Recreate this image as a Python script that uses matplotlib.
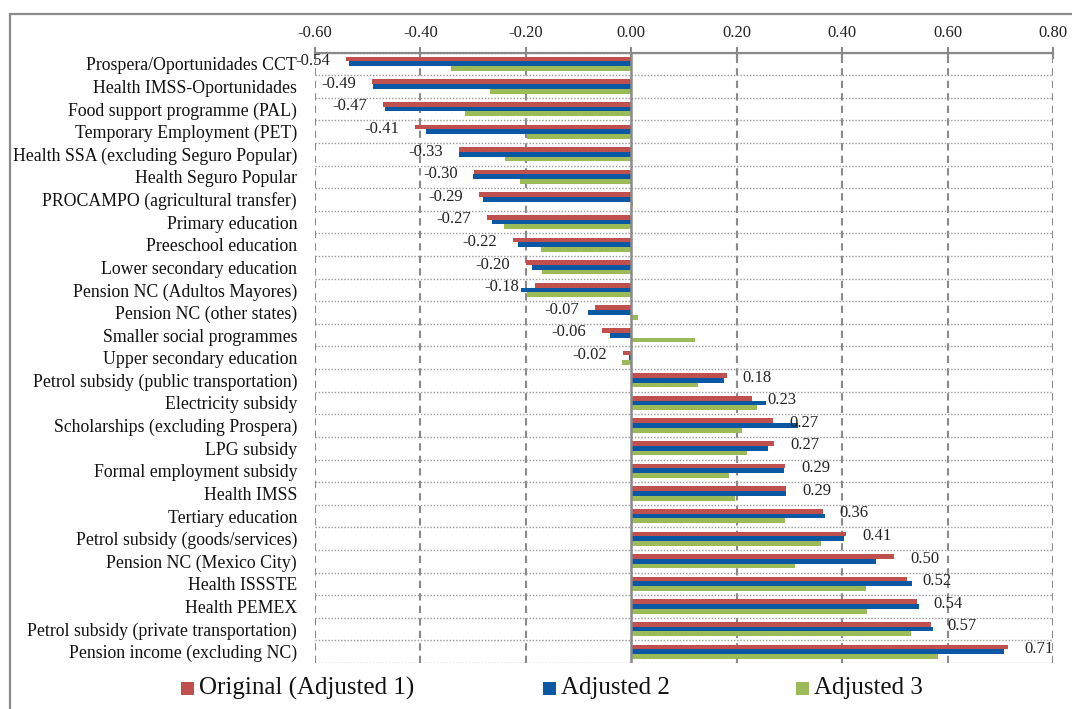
import matplotlib
matplotlib.use('Agg')
import matplotlib.pyplot as plt
from matplotlib.patches import Rectangle

categories = [
    "Prospera/Oportunidades CCT",
    "Health IMSS-Oportunidades",
    "Food support programme (PAL)",
    "Temporary Employment (PET)",
    "Health SSA (excluding Seguro Popular)",
    "Health Seguro Popular",
    "PROCAMPO (agricultural transfer)",
    "Primary education",
    "Preeschool education",
    "Lower secondary education",
    "Pension NC (Adultos Mayores)",
    "Pension NC (other states)",
    "Smaller social programmes",
    "Upper secondary education",
    "Petrol subsidy (public transportation)",
    "Electricity subsidy",
    "Scholarships (excluding Prospera)",
    "LPG subsidy",
    "Formal employment subsidy",
    "Health IMSS",
    "Tertiary education",
    "Petrol subsidy (goods/services)",
    "Pension NC (Mexico City)",
    "Health ISSSTE",
    "Health PEMEX",
    "Petrol subsidy (private transportation)",
    "Pension income (excluding NC)",
]

original = [-0.541, -0.491, -0.471, -0.410, -0.327, -0.298, -0.289, -0.274, -0.224,
            -0.200, -0.183, -0.068, -0.056, -0.016, 0.181, 0.228, 0.269, 0.271,
            0.292, 0.294, 0.364, 0.407, 0.498, 0.522, 0.542, 0.569, 0.714]
adjusted2 = [-0.535, -0.489, -0.466, -0.389, -0.326, -0.300, -0.281, -0.265, -0.214,
             -0.188, -0.210, -0.083, -0.040, -0.004, 0.175, 0.256, 0.316, 0.260,
             0.290, 0.294, 0.368, 0.403, 0.464, 0.532, 0.545, 0.571, 0.706]
adjusted3 = [-0.342, -0.267, -0.315, -0.198, -0.239, -0.211, 0.003, -0.241, -0.171,
             -0.169, -0.198, 0.012, 0.120, -0.017, 0.126, 0.239, 0.210, 0.219,
             0.185, 0.196, 0.291, 0.360, 0.311, 0.444, 0.447, 0.530, 0.581]

series_names = ["Original (Adjusted 1)", "Adjusted 2", "Adjusted 3"]
series_colors = ["#C0504D", "#0A57A3", "#9BBB59"]
xticks = [-0.60, -0.40, -0.20, 0.00, 0.20, 0.40, 0.60, 0.80]

plt.rcParams['font.family'] = ['Liberation Serif', 'DejaVu Serif']

W, H = 1072, 709
fig = plt.figure(figsize=(W / 100, H / 100), dpi=100)

def fx(x):
    return x / W

def fy(y):
    return 1 - y / H

left_px, right_px, top_px, bot_px = 314.8, 1053.3, 52.5, 663.0
ax = fig.add_axes([fx(left_px), fy(bot_px), (right_px - left_px) / W, (bot_px - top_px) / H])

n = len(categories)
ypos = list(range(n))
h = 0.21
grey = "#8A8A8A"

for k, (vals, col) in enumerate(zip([original, adjusted2, adjusted3], series_colors)):
    ax.barh([y + (k - 1) * h for y in ypos], vals, height=h, color=col, zorder=3, linewidth=0)

ax.set_xlim(-0.6, 0.8)
ax.set_ylim(n - 0.5, -0.5)

# gridlines
for v in xticks:
    if abs(v) < 1e-9:
        continue
    ax.axvline(v, color=grey, lw=1.5, ls=(0, (3.5, 2.5)), zorder=1)
for b in range(n + 1):
    ax.axhline(b - 0.5, color="#9A9A9A", lw=1.0, ls=(0, (1, 1.3)), zorder=1)
ax.axvline(0, color=grey, lw=1.8, zorder=4)

for s in ['left', 'right', 'bottom']:
    ax.spines[s].set_visible(False)
ax.spines['top'].set_color(grey)
ax.spines['top'].set_linewidth(1.6)

ax.xaxis.tick_top()
ax.set_xticks(xticks)
ax.set_xticklabels([f"{v:.2f}" for v in xticks])
ax.tick_params(axis='x', direction='inout', length=9, width=1.5, color=grey, pad=4,
               labelsize=12, labelcolor="#222222")
ax.set_yticks(ypos)
ax.set_yticklabels(categories)
ax.tick_params(axis='y', length=0, pad=12.8, labelsize=12.8, labelcolor="#111111")

# value labels (first series)
for i, v in enumerate(original):
    off = 16 if v > 0 else -16
    ax.annotate(f"{v:.2f}", xy=(v, i - h), xytext=(off, -2), textcoords='offset pixels',
                ha='left' if v > 0 else 'right', va='center', fontsize=12,
                color="#222222", zorder=6, annotation_clip=False)

# legend (manual)
leg_text_x = [199, 561, 814]
leg_y = 688
sq = 13
for name, col, tx in zip(series_names, series_colors, leg_text_x):
    fig.add_artist(Rectangle((fx(tx - sq - 5), fy(leg_y + sq / 2)), sq / W, sq / H,
                             transform=fig.transFigure, color=col, lw=0))
    fig.text(fx(tx), fy(leg_y), name, ha='left', va='center', fontsize=18, color="#111111")

# outer frame
fig.add_artist(Rectangle((fx(10), -0.5), 2, fy(14) + 0.5, transform=fig.transFigure,
                         fill=False, edgecolor=grey, lw=1.6))

fig.savefig("out.png", dpi=100)
